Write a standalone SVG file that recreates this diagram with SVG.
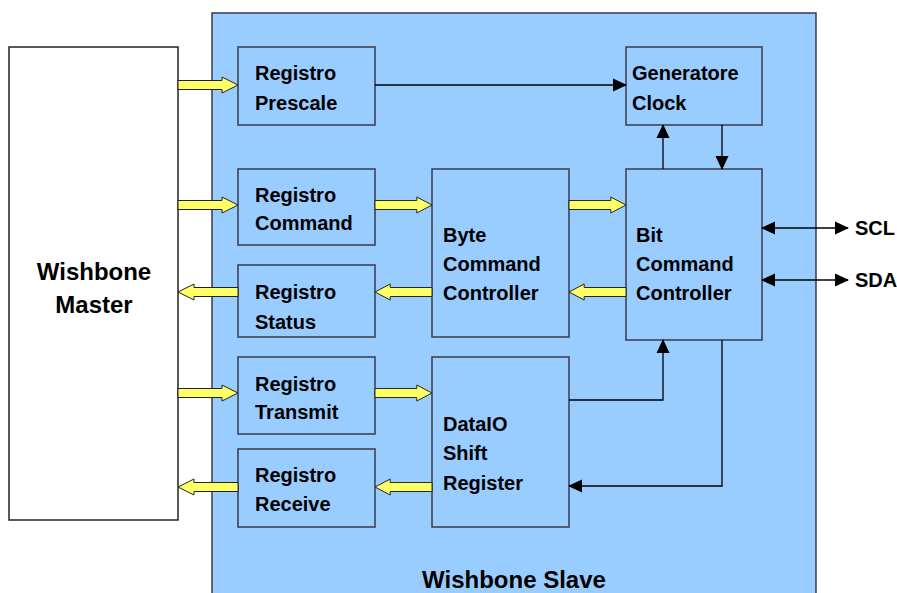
<svg xmlns="http://www.w3.org/2000/svg" width="897" height="593" viewBox="0 0 897 593">
  <style>
    .blk { fill: #99CCFF; stroke: #3a3a4a; stroke-width: 1.5; }
    .master { fill: #ffffff; stroke: #222; stroke-width: 1.5; }
    .lbl { font-family: "Liberation Sans", Arial, sans-serif; font-weight: bold; font-size: 20px; fill: #000; }
    .big { font-family: "Liberation Sans", Arial, sans-serif; font-weight: bold; font-size: 24px; fill: #000; }
    .wire { fill: none; stroke: #000; stroke-width: 1.3; }
    .bus { fill: #FFFF66; stroke: #222; stroke-width: 1; stroke-linejoin: miter; }
  </style>
  <defs>
    <marker id="tip" markerWidth="14" markerHeight="14" refX="13" refY="7" orient="auto" markerUnits="userSpaceOnUse" viewBox="0 0 14 14">
      <path d="M0,0.5 L14,7 L0,13.5 Z" fill="#000"/>
    </marker>
    <marker id="tail" markerWidth="14" markerHeight="14" refX="1" refY="7" orient="auto" markerUnits="userSpaceOnUse" viewBox="0 0 14 14">
      <path d="M14,0.5 L0,7 L14,13.5 Z" fill="#000"/>
    </marker>
    <!-- fat bus arrows, 60 long, drawn from origin -->
    <path id="busR" d="M0,-4.5 L44,-4.5 L44,-8 L60,0 L44,8 L44,4.5 L0,4.5 Z"/>
    <path id="busL" d="M60,-4.5 L16,-4.5 L16,-8 L0,0 L16,8 L16,4.5 L60,4.5 Z"/>
  </defs>

  <!-- slave container -->
  <g id="wishbone-slave">
    <rect class="blk" x="212" y="13" width="604" height="600"/>
    <text class="big" x="514" y="588" text-anchor="middle">Wishbone Slave</text>
  </g>

  <g id="wishbone-master">
    <rect class="master" x="9" y="47" width="169" height="473"/>
    <text class="big" x="94" y="280" text-anchor="middle">Wishbone</text>
    <text class="big" x="94" y="313" text-anchor="middle">Master</text>
  </g>

  <g id="reg-prescale">
    <rect class="blk" x="238" y="47" width="137" height="78"/>
    <text class="lbl" x="255" y="80">Registro</text>
    <text class="lbl" x="255" y="110">Prescale</text>
  </g>
  <g id="reg-command">
    <rect class="blk" x="238" y="169" width="137" height="76"/>
    <text class="lbl" x="255" y="202">Registro</text>
    <text class="lbl" x="255" y="230">Command</text>
  </g>
  <g id="reg-status">
    <rect class="blk" x="238" y="265" width="137" height="72"/>
    <text class="lbl" x="255" y="299">Registro</text>
    <text class="lbl" x="255" y="329">Status</text>
  </g>
  <g id="reg-transmit">
    <rect class="blk" x="238" y="357" width="137" height="77"/>
    <text class="lbl" x="255" y="391">Registro</text>
    <text class="lbl" x="255" y="419">Transmit</text>
  </g>
  <g id="reg-receive">
    <rect class="blk" x="238" y="449" width="137" height="78"/>
    <text class="lbl" x="255" y="482">Registro</text>
    <text class="lbl" x="255" y="511">Receive</text>
  </g>

  <g id="byte-controller">
    <rect class="blk" x="432" y="169" width="137" height="168"/>
    <text class="lbl" x="443" y="242">Byte</text>
    <text class="lbl" x="443" y="271">Command</text>
    <text class="lbl" x="443" y="300">Controller</text>
  </g>
  <g id="clock-gen">
    <rect class="blk" x="626" y="47" width="136" height="78"/>
    <text class="lbl" x="632" y="80">Generatore</text>
    <text class="lbl" x="632" y="110">Clock</text>
  </g>
  <g id="bit-controller">
    <rect class="blk" x="626" y="169" width="136" height="171"/>
    <text class="lbl" x="636" y="242">Bit</text>
    <text class="lbl" x="636" y="271">Command</text>
    <text class="lbl" x="636" y="300">Controller</text>
  </g>
  <g id="shift-register">
    <rect class="blk" x="432" y="357" width="137" height="170"/>
    <text class="lbl" x="443" y="431">DataIO</text>
    <text class="lbl" x="443" y="460">Shift</text>
    <text class="lbl" x="443" y="490">Register</text>
  </g>

  <g id="pins">
    <text class="lbl" x="855" y="235">SCL</text>
    <text class="lbl" x="855" y="287">SDA</text>
  </g>

  <g id="connectors">
    <!-- data buses -->
    <use href="#busR" class="bus" transform="translate(178,85)"/>
    <use href="#busR" class="bus" transform="translate(178,205)"/>
    <use href="#busL" class="bus" transform="translate(178,292)"/>
    <use href="#busR" class="bus" transform="translate(178,393)"/>
    <use href="#busL" class="bus" transform="translate(178,487)"/>
    <use href="#busR" class="bus" transform="translate(375,205) scale(0.95,1)"/>
    <use href="#busL" class="bus" transform="translate(375,292) scale(0.95,1)"/>
    <use href="#busR" class="bus" transform="translate(375,393) scale(0.95,1)"/>
    <use href="#busL" class="bus" transform="translate(375,487) scale(0.95,1)"/>
    <use href="#busR" class="bus" transform="translate(569,205) scale(0.95,1)"/>
    <use href="#busL" class="bus" transform="translate(569,292) scale(0.95,1)"/>

    <!-- control lines -->
    <path class="wire" d="M375,85 H626" marker-end="url(#tip)"/>
    <path class="wire" d="M663,169 V125" marker-end="url(#tip)"/>
    <path class="wire" d="M722,125 V169" marker-end="url(#tip)"/>
    <path class="wire" d="M569,400 H663 V340" marker-end="url(#tip)"/>
    <path class="wire" d="M722,340 V486 H569" marker-end="url(#tip)"/>
    <path class="wire" d="M762,228 H848" marker-start="url(#tail)" marker-end="url(#tip)"/>
    <path class="wire" d="M762,280 H848" marker-start="url(#tail)" marker-end="url(#tip)"/>
  </g>
</svg>
